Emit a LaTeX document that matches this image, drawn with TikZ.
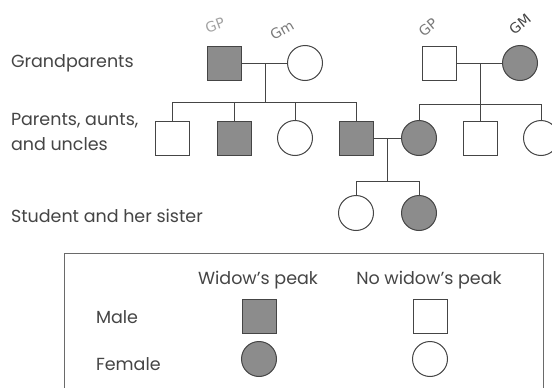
\documentclass[tikz,border=0pt]{standalone}
\usepackage{fontspec}
\setmainfont{Poppins}
\newfontfamily\handfont{DejaVu Sans}
\definecolor{ink}{HTML}{454545}
\definecolor{shade}{HTML}{8C8C8C}
\definecolor{pencil}{HTML}{7A7A7A}
\begin{document}
\begin{tikzpicture}[x=1pt,y=-1pt,
  line width=1pt,
  every node/.style={inner sep=0pt,outer sep=0pt},
  male/.style={rectangle,draw=ink,fill=white,minimum size=34pt},
  fmale/.style={male,fill=shade},
  female/.style={circle,draw=ink,fill=white,minimum size=35pt},
  ffemale/.style={female,fill=shade},
  conn/.style={draw=ink,line width=0.9pt},
  lbl/.style={anchor=base west,text=ink,font=\fontsize{17.5}{20}\selectfont},
  head/.style={anchor=base,text=ink,font=\fontsize{17.5}{20}\selectfont},
  hand/.style={text=pencil,font=\handfont\fontsize{14}{15}\selectfont}
]
\useasboundingbox (0,0) rectangle (552,388);
\clip (0,0) rectangle (552,388);
\fill[white] (0,0) rectangle (552,388);

% row labels
\node[lbl] (tg) at (11,67) {Grandparents};
\node[lbl] (tp1) at (11,125) {Parents, aunts,};
\node[lbl] (tp2) at (11,150) {and uncles};
\node[lbl] (ts) at (11,222) {Student and her sister};

% grandparents
\node[fmale]   (gp1) at (224,63) {};
\node[female]  (gm1) at (305,63) {};
\node[male]    (gp2) at (439,63) {};
\node[ffemale] (gm2) at (520,63) {};

% handwritten notes
\node[hand,rotate=20,text=pencil!70]  (h1) at (215,25) {GP};
\node[hand,rotate=30]  (h2) at (282,30) {Gm};
\node[hand,rotate=40]  (h3) at (428,27) {GP};
\node[hand,rotate=40,text=ink] (h4) at (520,24) {GM};

% parents, aunts, uncles
\node[male]    (p1) at (172,138) {};
\node[fmale]   (p2) at (234,138) {};
\node[female]  (p3) at (295,138) {};
\node[fmale]   (p4) at (356,138) {};
\node[ffemale] (p5) at (419,138) {};
\node[male]    (p6) at (480,138) {};
\node[female]  (p7) at (541,138) {};

% children
\node[female]  (c1) at (356,213) {};
\node[ffemale] (c2) at (419,213) {};

% coordinates
\coordinate (m1) at (265,63);
\coordinate (s1) at (265,102);
\coordinate (m2) at (480,63);
\coordinate (s2) at (480,104);
\coordinate (m3) at (387,138);
\coordinate (s3) at (387,181);

% left family
\draw[conn] (gp1.east) -- (gm1.west);
\draw[conn] (m1) -- (s1);
\draw[conn] (p1.north) -- (p1.north |- s1) -- (p4.north |- s1) -- (p4.north);
\draw[conn] (p2.north) -- (p2.north |- s1);
\draw[conn] (p3.north) -- (p3.north |- s1);

% right family
\draw[conn] (gp2.east) -- (gm2.west);
\draw[conn] (m2) -- (s2);
\draw[conn] (p5.north) -- (p5.north |- s2) -- (p7.north |- s2) -- (p7.north);
\draw[conn] (p6.north) -- (p6.north |- s2);

% parents' family
\draw[conn] (p4.east) -- (p5.west);
\draw[conn] (m3) -- (s3);
\draw[conn] (c1.north) -- (c1.north |- s3) -- (c2.north |- s3) -- (c2.north);

% legend
\draw[draw=ink!80,line width=0.9pt] (64,253) rectangle (543,400);
\node[head] (k1) at (258,284) {Widow’s peak};
\node[head] (k2) at (429,284) {No widow’s peak};
\node[lbl]  (k3) at (96,323) {Male};
\node[lbl]  (k4) at (96,370) {Female};
\node[fmale]   (l1) at (259,316) {};
\node[male]    (l2) at (430,316) {};
\node[ffemale] (l3) at (259,359) {};
\node[female]  (l4) at (430,359) {};
\end{tikzpicture}
\end{document}
